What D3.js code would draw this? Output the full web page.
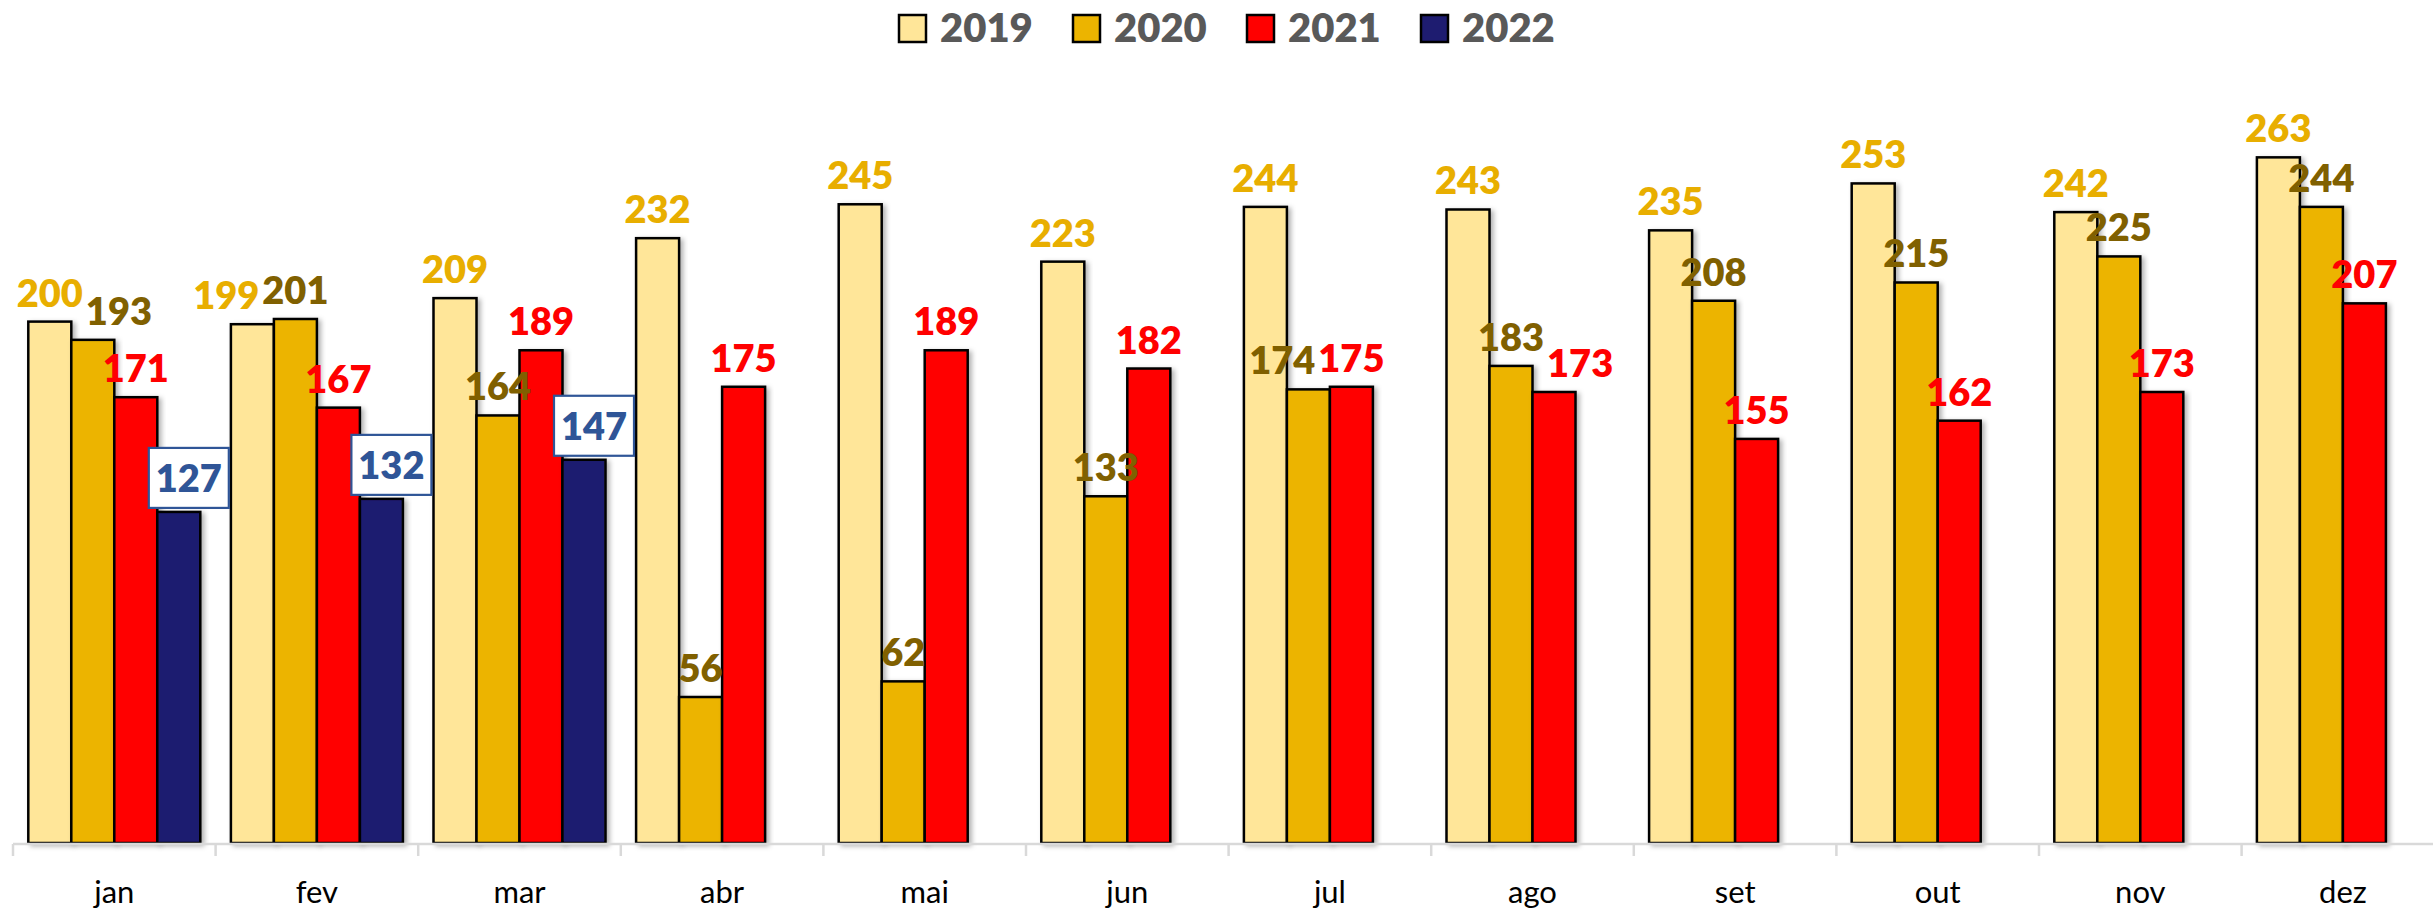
<!DOCTYPE html>
<html>
<head>
<meta charset="utf-8">
<script src="https://cdn.jsdelivr.net/npm/d3@7/dist/d3.min.js"></script>
<style>
  html, body { margin: 0; padding: 0; background: #ffffff; }
  svg { display: block; }
</style>
</head>
<body>
<svg id="chart" width="2433" height="914"></svg>
<script>
// ---- data ----
const months = ["jan", "fev", "mar", "abr", "mai", "jun", "jul", "ago", "set", "out", "nov", "dez"];
const seriesNames = ["2019", "2020", "2021", "2022"];
const values2019 = [200, 199, 209, 232, 245, 223, 244, 243, 235, 253, 242, 263];
const values2020 = [193, 201, 164, 56, 62, 133, 174, 183, 208, 215, 225, 244];
const values2021 = [171, 167, 189, 175, 189, 182, 175, 173, 155, 162, 173, 207];
const values2022 = [127, 132, 147, null, null, null, null, null, null, null, null, null];

// ---- styles ----
const barFill = {"2019": "#FFE699", "2020": "#ECB400", "2021": "#FF0000", "2022": "#1E1C70"};
const labelFill = {"2019": "#E8AE00", "2020": "#806000", "2021": "#FF0000", "2022": "#2F5597"};
const allValues = {"2019": values2019, "2020": values2020, "2021": values2021, "2022": values2022};

const W = 2433, H = 914;
const svg = d3.select("#chart");

const defs = svg.append("defs");
const f = defs.append("filter").attr("id", "shadow").attr("x", "-20%").attr("y", "-5%").attr("width", "140%").attr("height", "110%");
f.append("feDropShadow").attr("dx", 3).attr("dy", 2).attr("stdDeviation", 2.5)
  .attr("flood-color", "#000").attr("flood-opacity", 0.3);

// ---- scales ----
const plotLeft = 13, step = 202.6;
const x0 = d3.scaleBand().domain(months).range([plotLeft, plotLeft + step * months.length]).padding(0);
const x1 = d3.scaleBand().domain(seriesNames).range([15.3, 187.3]).padding(0);
const y = d3.scaleLinear().domain([0, 300]).range([843, 60.9]);

// ---- bars ----
const rows = [];
months.forEach((m, i) => {
  seriesNames.forEach(s => {
    const v = allValues[s][i];
    if (v !== null && v !== undefined) rows.push({month: m, series: s, value: v, mi: i});
  });
});

const barsG = svg.append("g");
barsG.selectAll("rect").data(rows).join("rect")
  .attr("x", d => x0(d.month) + x1(d.series))
  .attr("y", d => y(d.value))
  .attr("width", x1.bandwidth())
  .attr("height", d => y(0) - y(d.value))
  .attr("fill", d => barFill[d.series])
  .attr("stroke", "#000")
  .attr("stroke-width", 2.5)
  .attr("filter", "url(#shadow)");

// ---- axis ----
const axisG = svg.append("g");
axisG.append("line")
  .attr("x1", x0.range()[0]).attr("x2", x0.range()[1])
  .attr("y1", y(0) + 1).attr("y2", y(0) + 1)
  .attr("stroke", "#D9D9D9").attr("stroke-width", 2.5);
axisG.selectAll("line.tick").data(months).join("line").attr("class", "tick")
  .attr("x1", d => x0(d)).attr("x2", d => x0(d))
  .attr("y1", y(0) + 1).attr("y2", y(0) + 13)
  .attr("stroke", "#D9D9D9").attr("stroke-width", 2.5);

const xAxis = d3.axisBottom(x0).tickSize(0).tickPadding(0);
const xg = svg.append("g").attr("transform", `translate(0, ${y(0)})`).call(xAxis);
xg.select(".domain").remove();
xg.selectAll("text")
  .attr("dy", 0).attr("y", 60)
  .attr("font-family", "Lato, 'Open Sans', sans-serif")
  .attr("font-size", 31)
  .attr("fill", "#000");

// ---- data labels ----
const labelFont = "Lato, 'Open Sans', sans-serif";
const labelG = svg.append("g");
const gap = 15;

months.forEach((m, i) => {
  let prev = null;
  ["2019", "2020", "2021"].forEach(s => {
    const v = allValues[s][i];
    if (v === null) return;
    const cx = x0(m) + x1(s) + x1.bandwidth() / 2;
    const t = labelG.append("text")
      .attr("x", cx).attr("y", y(v) - gap)
      .attr("text-anchor", "middle")
      .attr("font-family", labelFont).attr("font-weight", 800)
      .attr("font-size", 38)
      .attr("fill", labelFill[s])
      .text(v);
    let bb = t.node().getBBox();
    const cur = {node: t, bb: bb, value: v, cx: cx};
    if (prev) {
      const pb = prev.bb;
      const vOverlap = bb.y < pb.y + pb.height - 8 && bb.y + bb.height - 8 > pb.y;
      const hOverlap = pb.x + pb.width + 3 - bb.x;
      if (vOverlap && hOverlap > 0) {
        if (v <= prev.value) {
          // move the current (shorter) label right
          cur.cx += hOverlap;
          t.attr("x", cur.cx);
          cur.bb = t.node().getBBox();
        } else {
          // move previous (shorter) label left
          prev.cx -= hOverlap;
          prev.node.attr("x", prev.cx);
          prev.bb = prev.node.node().getBBox();
        }
      }
    }
    prev = cur;
  });
  const v22 = values2022[i];
  if (v22 !== null) {
    const cx = x0(m) + x1("2022") + x1.bandwidth() / 2 + 10;
    const boxH = 60, boxW = 80;
    const boxBottom = y(v22) - 4;
    const g = labelG.append("g");
    g.append("rect")
      .attr("x", cx - boxW / 2).attr("y", boxBottom - boxH)
      .attr("width", boxW).attr("height", boxH)
      .attr("fill", "#fff").attr("stroke", "#2F5597").attr("stroke-width", 2.2);
    g.append("text")
      .attr("x", cx).attr("y", boxBottom - boxH / 2 + 14)
      .attr("text-anchor", "middle")
      .attr("font-family", labelFont).attr("font-weight", 800)
      .attr("font-size", 38)
      .attr("fill", labelFill["2022"])
      .text(v22);
  }
});

// ---- legend ----
const legendG = svg.append("g");
const itemW = 174, sw = 27;
const legendStart = 1227 - (itemW * seriesNames.length - 40) / 2;
seriesNames.forEach((s, k) => {
  const lx = legendStart + k * itemW;
  legendG.append("rect")
    .attr("x", lx).attr("y", 15).attr("width", sw).attr("height", sw)
    .attr("fill", barFill[s]).attr("stroke", "#000").attr("stroke-width", 2.5);
  legendG.append("text")
    .attr("x", lx + sw + 14).attr("y", 42)
    .attr("font-family", labelFont).attr("font-weight", 800)
    .attr("font-size", 40).attr("fill", "#595959")
    .text(s);
});
</script>
</body>
</html>
